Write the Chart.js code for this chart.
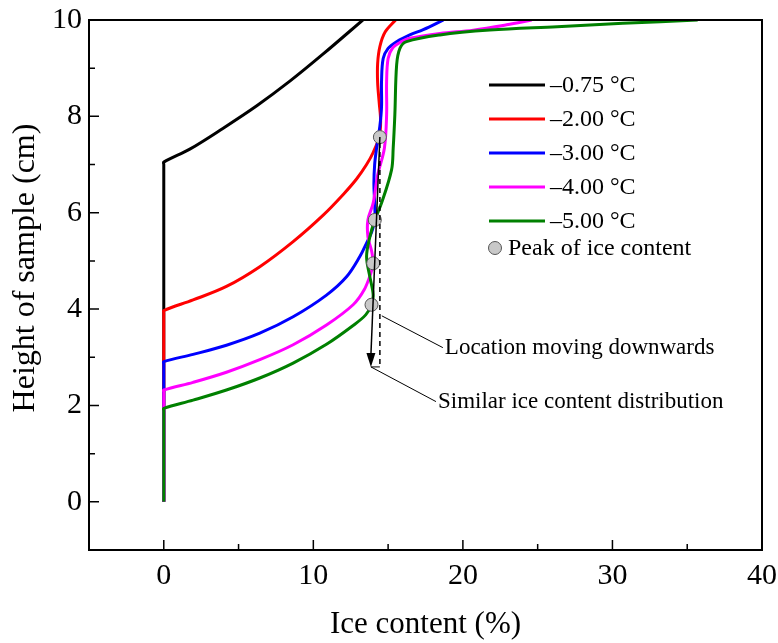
<!DOCTYPE html>
<html>
<head>
<meta charset="utf-8">
<script src="https://cdn.jsdelivr.net/npm/chart.js@4.4.1/dist/chart.umd.min.js"></script>
<style>
  html, body { margin: 0; padding: 0; background: #fff; }
  #wrap { width: 778px; height: 643px; }
</style>
</head>
<body>
<div id="wrap"><canvas id="graph"></canvas></div>
<script>
// series labels + colours
var labels = ['\u20130.75 \u00b0C', '\u20132.00 \u00b0C', '\u20133.00 \u00b0C', '\u20134.00 \u00b0C', '\u20135.00 \u00b0C'];
var colors = ['#000000', '#ff0000', '#0000ff', '#ff00ff', '#008000'];

// ice content (%) / height (cm)
var ice075 = [0, 0, 0, 1.74, 3.95, 6.22, 8.43, 10.64, 13.31];
var h075   = [0, 7.0, 7.05, 7.32, 7.75, 8.22, 8.73, 9.29, 10.0];

var ice200 = [0, 0, 0, 1.96, 4.19, 6.42, 8.65, 10.66, 12.0, 12.89, 13.56, 14.0, 14.4, 14.5, 14.4, 14.3, 14.3, 14.45, 14.8, 15.5];
var h200   = [0, 3.92, 3.97, 4.19, 4.47, 4.88, 5.40, 5.95, 6.38, 6.7, 7.0, 7.25, 7.57, 7.9, 8.3, 8.7, 9.1, 9.45, 9.75, 10.0];

var ice300 = [0, 0, 0, 1.96, 4.19, 6.42, 8.65, 10.88, 12.22, 13.11, 13.56, 13.9, 14.11, 14.1, 14.05, 14.1, 14.23, 14.45, 14.56, 14.56, 14.67, 15.0, 15.57, 16.45, 17.35, 18.7];
var h300   = [0, 2.86, 2.91, 3.06, 3.25, 3.50, 3.84, 4.29, 4.67, 5.09, 5.37, 5.6, 5.85, 6.2, 6.6, 7.0, 7.34, 7.8, 8.2, 8.72, 9.2, 9.41, 9.55, 9.69, 9.8, 10.0];

var ice400 = [0, 0, 0, 1.96, 4.19, 6.42, 8.65, 10.88, 12.66, 13.4, 13.85, 14.0, 13.9, 13.65, 13.65, 14.0, 14.3, 14.75, 14.9, 14.9, 15.0, 15.3, 15.9, 16.45, 18.46, 20.69, 22.92, 24.6];
var h400   = [0, 2.27, 2.32, 2.48, 2.69, 2.95, 3.26, 3.67, 4.09, 4.4, 4.75, 4.95, 5.2, 5.5, 5.85, 6.2, 6.78, 7.34, 8.03, 8.72, 9.2, 9.42, 9.55, 9.62, 9.72, 9.79, 9.9, 10.0];

var ice500 = [0, 0, 0, 1.96, 4.19, 6.42, 8.65, 10.88, 12.66, 13.5, 13.89, 14.0, 13.78, 13.56, 13.78, 14.11, 14.56, 15.23, 15.34, 15.45, 15.57, 15.79, 16.23, 18.46, 21.8, 26.3, 30.7, 35.7];
var h500   = [0, 1.89, 1.94, 2.11, 2.32, 2.57, 2.88, 3.27, 3.66, 3.88, 4.09, 4.3, 4.67, 5.09, 5.5, 5.85, 6.2, 6.89, 7.34, 8.03, 9.07, 9.41, 9.55, 9.69, 9.79, 9.86, 9.93, 10.0];

// peaks of ice content
var peakIce = [14.45, 14.11, 14.0, 13.89];
var peakH   = [7.57, 5.85, 4.95, 4.09];

// annotation (data units)
var arrowFrom = [14.45, 7.57];
var arrowTo   = [13.85, 2.8];
var dashX = 14.45;
var note1 = { text: 'Location moving downwards', from: [14.58, 3.86], to: [18.66, 3.2] };
var note2 = { text: 'Similar ice content distribution', from: [13.85, 2.8], to: [18.2, 2.08] };

var xTicks = [-5, 0, 5, 10, 15, 20, 25, 30, 35, 40];
var yTicks = [-1, 0, 1, 2, 3, 4, 5, 6, 7, 8, 9, 10];

var serif = "'Liberation Serif', 'Times New Roman', serif";

function pts(xs, ys) {
    var out = [];
    for (var i = 0; i < xs.length; i++) out.push({ x: xs[i], y: ys[i] });
    return out;
}

var series = [pts(ice075, h075), pts(ice200, h200), pts(ice300, h300), pts(ice400, h400), pts(ice500, h500)];
var datasets = [];
for (var i = 0; i < series.length; i++) {
    datasets.push({
        label: labels[i],
        data: series[i],
        showLine: true,
        borderColor: colors[i],
        borderWidth: 3,
        pointRadius: 0,
        tension: 0.35,
        order: 5 - i
    });
}
datasets.push({
    label: 'Peak of ice content',
    data: pts(peakIce, peakH),
    showLine: false,
    pointRadius: 6.5,
    pointBackgroundColor: '#c8c8c8',
    pointBorderColor: '#555555',
    pointBorderWidth: 1,
    order: 0
});

// axes box, tick marks, titles, annotation, legend
var decor = {
    id: 'decor',
    afterDatasetsDraw: function (chart) {
        var ctx = chart.ctx, xs = chart.scales.x, ys = chart.scales.y;
        function px(v) { return xs.getPixelForValue(v); }
        function py(v) { return ys.getPixelForValue(v); }
        ctx.save();
        ctx.strokeStyle = '#000';
        ctx.fillStyle = '#000';
        // solid arrow
        ctx.lineWidth = 1.5;
        ctx.beginPath();
        ctx.moveTo(px(arrowFrom[0]), py(arrowFrom[1]));
        ctx.lineTo(px(arrowTo[0]), py(arrowTo[1]) - 12);
        ctx.stroke();
        var tx = px(arrowTo[0]), ty = py(arrowTo[1]);
        ctx.beginPath();
        ctx.moveTo(tx, ty);
        ctx.lineTo(tx - 4.5, ty - 14);
        ctx.lineTo(tx + 4.5, ty - 14);
        ctx.closePath();
        ctx.fill();
        // dashed line
        ctx.setLineDash([5, 4]);
        ctx.beginPath();
        ctx.moveTo(px(dashX), py(arrowFrom[1]) + 6);
        ctx.lineTo(px(dashX), py(arrowTo[1]));
        ctx.stroke();
        ctx.setLineDash([]);
        ctx.lineWidth = 1;
        ctx.beginPath();
        ctx.moveTo(tx, ty);
        ctx.lineTo(px(dashX), ty);
        ctx.stroke();
        // leader lines + notes
        ctx.font = '23px ' + serif;
        ctx.textBaseline = 'middle';
        [note1, note2].forEach(function (n) {
            ctx.beginPath();
            ctx.moveTo(px(n.from[0]), py(n.from[1]));
            ctx.lineTo(px(n.to[0]), py(n.to[1]));
            ctx.stroke();
            ctx.fillText(n.text, px(n.to[0]) + 2, py(n.to[1]));
        });
        ctx.restore();
    },
    afterDraw: function (chart) {
        var ctx = chart.ctx, a = chart.chartArea, xs = chart.scales.x, ys = chart.scales.y;
        ctx.save();
        ctx.strokeStyle = '#000';
        ctx.lineWidth = 2;
        ctx.strokeRect(a.left, a.top, a.right - a.left, a.bottom - a.top);
        ctx.lineWidth = 1.5;
        ctx.beginPath();
        xTicks.forEach(function (v) {
            var x = xs.getPixelForValue(v);
            var len = (v % 10 === 0) ? 10 : 6;
            ctx.moveTo(x, a.bottom);
            ctx.lineTo(x, a.bottom - len);
        });
        yTicks.forEach(function (v) {
            var y = ys.getPixelForValue(v);
            var len = (v % 2 === 0) ? 10 : 6;
            ctx.moveTo(a.left, y);
            ctx.lineTo(a.left + len, y);
        });
        ctx.stroke();

        // axis titles
        ctx.fillStyle = '#000';
        ctx.textAlign = 'center';
        ctx.textBaseline = 'middle';
        ctx.font = '31px ' + serif;
        ctx.fillText('Ice content (%)', (a.left + a.right) / 2, 625);
        ctx.save();
        ctx.translate(26, 268);
        ctx.rotate(-Math.PI / 2);
        ctx.font = '32px ' + serif;
        ctx.fillText('Height of sample (cm)', 0, 0);
        ctx.restore();

        // legend
        ctx.textAlign = 'left';
        ctx.font = '24px ' + serif;
        var lx = 489, ly = 85, step = 34;
        for (var i = 0; i < 5; i++) {
            var ds = chart.data.datasets[i];
            ctx.strokeStyle = ds.borderColor;
            ctx.lineWidth = 3;
            ctx.beginPath();
            ctx.moveTo(lx, ly + i * step);
            ctx.lineTo(lx + 56, ly + i * step);
            ctx.stroke();
            ctx.fillStyle = '#000';
            ctx.fillText(ds.label, lx + 61, ly + i * step + 1);
        }
        var pk = chart.data.datasets[5];
        ctx.beginPath();
        ctx.arc(lx + 6, 248, 6.5, 0, Math.PI * 2);
        ctx.fillStyle = pk.pointBackgroundColor;
        ctx.fill();
        ctx.lineWidth = 1;
        ctx.strokeStyle = pk.pointBorderColor;
        ctx.stroke();
        ctx.fillStyle = '#000';
        ctx.fillText(pk.label, lx + 19, 249);
        ctx.restore();
    }
};

var myChart = document.getElementById('graph').getContext('2d');
var chart = new Chart(myChart, {
    type: 'scatter',
    data: { datasets: datasets },
    options: {
        responsive: true,
        maintainAspectRatio: false,
        animation: false,
        layout: { padding: { top: 20, right: 16, left: 0, bottom: 0 } },
        plugins: { legend: { display: false }, tooltip: { enabled: false } },
        scales: {
            x: {
                type: 'linear', min: -5, max: 40,
                grid: { display: false, drawTicks: false },
                border: { display: false },
                ticks: {
                    stepSize: 5, padding: 8, color: '#000',
                    font: { family: serif, size: 30 },
                    maxRotation: 0, autoSkip: false,
                    callback: function (v) { return (v % 10 === 0 && v >= 0) ? v : ''; }
                },
                afterFit: function (s) {
                    s.height = 93;
                    s.paddingLeft = 0; s.paddingRight = 0;
                }
            },
            y: {
                type: 'linear', min: -1, max: 10,
                grid: { display: false, drawTicks: false },
                border: { display: false },
                ticks: {
                    stepSize: 1, padding: 7, color: '#000',
                    font: { family: serif, size: 30 },
                    autoSkip: false,
                    callback: function (v) { return (v % 2 === 0 && v >= 0) ? v : ''; }
                },
                afterFit: function (s) {
                    s.width = 89;
                    s.paddingTop = 0; s.paddingBottom = 0;
                }
            }
        }
    },
    plugins: [decor]
});
</script>
</body>
</html>
